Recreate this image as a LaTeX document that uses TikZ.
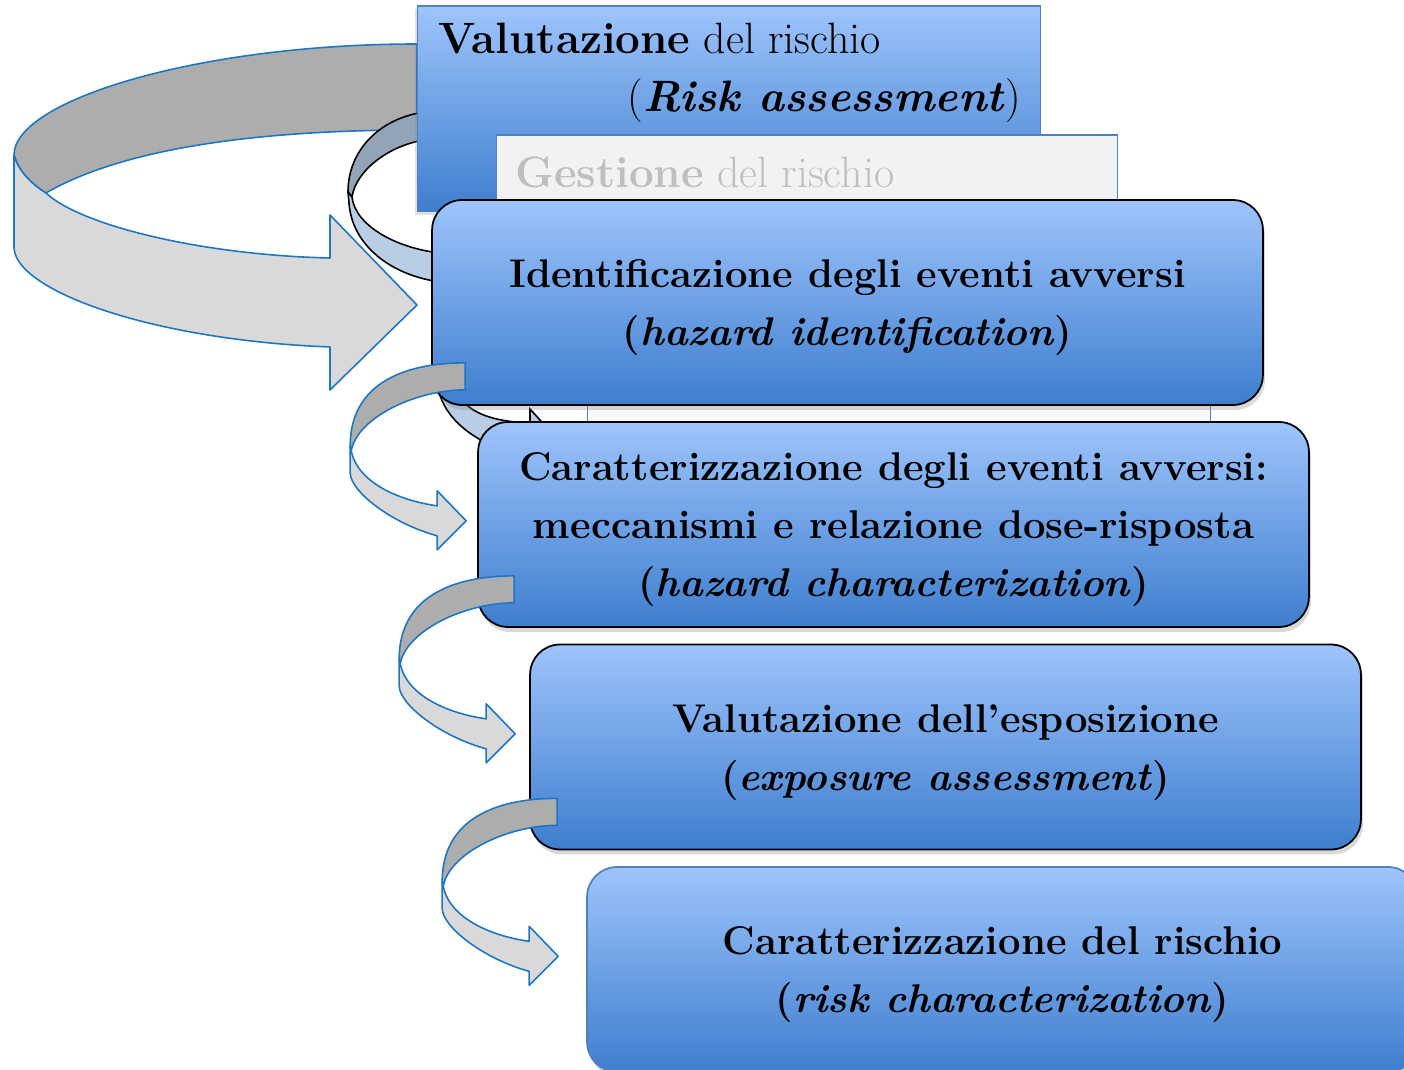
\documentclass[tikz,border=0pt]{standalone}
\usepackage{fontspec}
\usepackage{tikz}
\usetikzlibrary{calc,positioning,shadows}
\definecolor{boxtop}{RGB}{158,196,252}
\definecolor{boxbottom}{RGB}{62,126,206}
\definecolor{edgeblue}{RGB}{79,129,189}
\definecolor{ribbonblue}{RGB}{30,118,194}
\definecolor{ribbondark}{RGB}{173,173,173}
\definecolor{ribbonlight}{RGB}{217,217,217}
\definecolor{loopdark}{RGB}{148,164,184}
\definecolor{looplight}{RGB}{185,205,229}
\definecolor{hiddengray}{RGB}{242,242,242}
\definecolor{hiddentext}{RGB}{191,191,191}
\newcommand{\boxstrut}{\rule{0pt}{22pt}}

\begin{document}
\begin{tikzpicture}[x=0.02cm, y=-0.02cm,
  stepbox/.style={draw=black, line width=1pt, rounded corners=0.6cm,
    top color=boxtop, bottom color=boxbottom,
    minimum width=16.62cm, minimum height=4.1cm, align=center,
    font=\bfseries\fontsize{22.8}{33}\selectfont,
    drop shadow={opacity=0.3, shadow xshift=0.04cm, shadow yshift=-0.1cm}},
  ribbonback/.style={fill=ribbondark, draw=ribbonblue, line width=0.9pt, line join=round},
  ribbonfront/.style={fill=ribbonlight, draw=ribbonblue, line width=0.9pt, line join=round},
  loopback/.style={fill=loopdark, draw=black, line width=0.9pt},
  loopfront/.style={fill=looplight, draw=black, line width=0.9pt},
  toptext/.style={inner sep=0pt, font=\fontsize{25}{30}\selectfont}]
\useasboundingbox (0,0) rectangle (1404,1070);

\filldraw[ribbonback] (417,44) .. controls (200,44) and (14,100) .. (14,155)
  .. controls (18,170) and (30,183) .. (46,193)
  .. controls (120,150) and (250,130) .. (417,130) -- cycle;
\filldraw[ribbonfront] (14,155) -- (14,247) .. controls (14,290) and (150,340) .. (330,347)
  -- (330,390) -- (417,305) -- (330,215) -- (330,258)
  .. controls (200,255) and (80,225) .. (46,193)
  .. controls (30,183) and (18,170) .. (14,155) -- cycle;

\filldraw[loopback] (425,112) .. controls (380,118) and (348,150) .. (348,192) -- (352,197)
  .. controls (356,170) and (390,145) .. (425,140) -- cycle;
\filldraw[loopfront] (348,192) -- (349,203) .. controls (352,245) and (390,275) .. (440,282)
  -- (440,253) .. controls (395,248) and (355,225) .. (352,197) -- cycle;

\node[draw=edgeblue, line width=0.6pt, top color=boxtop, bottom color=boxbottom,
  minimum width=12.48cm, minimum height=4.12cm,
  drop shadow={opacity=0.25, shadow xshift=-0.04cm, shadow yshift=-0.06cm}] (valut) at (729,109) {};
\node[toptext, anchor=base west] (valtitle) at (438,54) {\textbf{Valutazione} del rischio};
\node[toptext, anchor=base east] (valsub) at (1021,112) {(\textbf{\textit{Risk assessment}})};

\node[draw=edgeblue, line width=0.6pt, fill=hiddengray, minimum width=12.44cm, minimum height=3.3cm] (gest) at (807,217.5) {};
\node[toptext, anchor=base west, text=hiddentext] (gesttitle) at (515,188) {\textbf{Gestione} del rischio};

\node[draw=edgeblue, line width=0.6pt, fill=hiddengray!50, minimum width=12.48cm, minimum height=1.6cm] (hidden) at (899,413) {};

\filldraw[loopfront] (436,370) .. controls (436,405) and (455,428) .. (492,446) -- (540,446) -- (540,424)
  -- (528,423) .. controls (490,421) and (458,412) .. (452,378) -- cycle;
\filldraw[loopfront] (530,409) -- (549,430) -- (530,430) -- cycle;

\node[stepbox] (ident) at (847.5,302.5) {\boxstrut Identificazione degli eventi avversi\\(\textit{hazard identification})};
\node[stepbox] (carat) at (893.5,524.5) {\boxstrut Caratterizzazione degli eventi avversi:\\meccanismi e relazione dose-risposta\\(\textit{hazard characterization})};
\node[stepbox] (expos) at (945.5,747) {\boxstrut Valutazione dell’esposizione\\(\textit{exposure assessment})};
\node[stepbox, draw=edgeblue, drop shadow={opacity=0}] (risk) at (1002.5,969.5) {\boxstrut Caratterizzazione del rischio\\(\textit{risk characterization})};

\foreach \src/\dx/\dy in {ident/34/-43, carat/37/-52, expos/28/-52} {
  \begin{scope}[shift={($(\src.south west)+(\dx,\dy)$)}]
    \filldraw[ribbonback] (0,0) .. controls (-60,0) and (-115,20) .. (-115,83) -- (-114,88)
      .. controls (-108,55) and (-50,27) .. (0,27) -- cycle;
    \filldraw[ribbonfront] (-115,83) -- (-115,110) .. controls (-115,128) and (-75,160) .. (-28,173)
      -- (-28,187) -- (1,158) -- (-28,128) -- (-28,143)
      .. controls (-70,137) and (-108,118) .. (-114,88) -- cycle;
  \end{scope}
}
\end{tikzpicture}
\end{document}
